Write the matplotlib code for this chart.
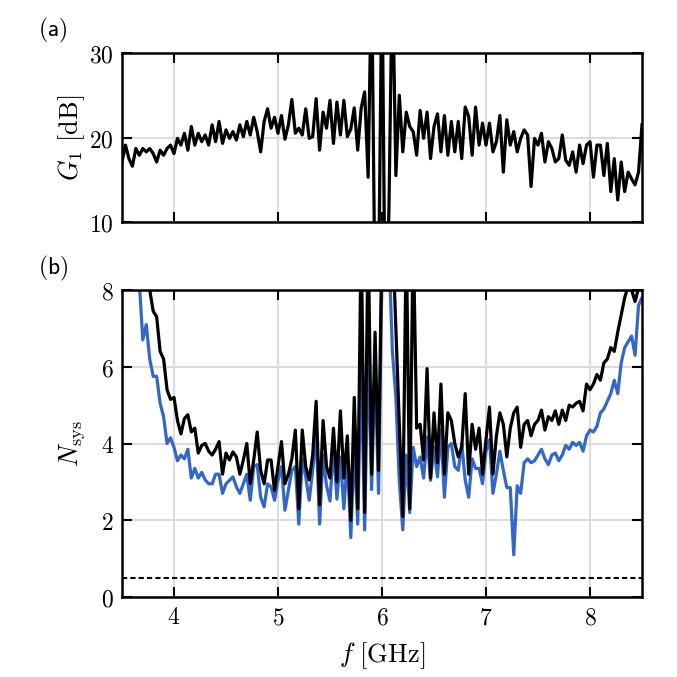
import numpy as np
import matplotlib
matplotlib.use('Agg')
import matplotlib.pyplot as plt
from matplotlib.ticker import FuncFormatter

plt.rcParams['mathtext.fontset'] = 'cm'
plt.rcParams['font.family'] = 'DejaVu Sans'

# frequency grid, 1/30 GHz steps
freq = np.linspace(3.5, 8.5, 151)

# (a) gain G1 in dB
gain = [17.1, 19.1, 17.5, 16.6, 18.7, 17.9, 18.7, 18.3, 18.7, 18.1,
        17.1, 18.5, 17.9, 18.7, 19.1, 18.1, 19.9, 19.1, 20.5, 18.5,
        21.3, 19.1, 20.5, 19.5, 20.3, 19.1, 21.5, 19.5, 21.9, 19.3,
        20.9, 19.9, 20.7, 19.7, 21.5, 20.1, 21.9, 20.3, 22.4, 20.7,
        18.3, 21.9, 23.4, 21.1, 22.4, 20.5, 22.6, 19.8, 21.5, 24.5,
        20.5, 21.1, 20.3, 23.4, 19.9, 20.1, 24.6, 18.5, 23.0, 21.1,
        24.4, 19.3, 24.2, 20.3, 24.4, 20.1, 21.0, 23.5, 18.5, 23.5,
        25.4, 15.3, 40.0, 0.0, 2.0, 40.0, -5.0, 11.5, 40.0, 15.5,
        25.0, 18.3, 23.0, 21.3, 20.7, 17.9, 23.2, 19.9, 23.0, 17.5,
        21.3, 22.8, 18.3, 22.6, 17.9, 21.9, 18.3, 21.9, 17.5, 23.6,
        22.5, 17.9, 23.6, 19.1, 21.7, 19.1, 21.7, 18.3, 19.5, 22.6,
        15.9, 22.1, 19.1, 20.7, 18.3, 19.9, 20.9, 20.3, 14.2, 19.9,
        19.1, 20.5, 17.1, 19.5, 18.7, 17.1, 17.5, 20.3, 17.3, 16.7,
        18.3, 15.9, 19.1, 16.9, 19.1, 19.5, 15.3, 19.1, 19.1, 15.5,
        19.3, 13.6, 17.5, 12.6, 17.1, 13.6, 15.9, 15.1, 14.4, 15.9,
        21.5]

# (b) system noise, black and blue traces
nsys_black = [14.0, 13.0, 12.0, 11.2, 10.5, 9.8, 9.2, 8.5, 8.0, 7.45,
              7.3, 6.4, 6.2, 5.4, 5.15, 5.2, 4.6, 4.25, 4.65, 4.75,
              4.3, 4.4, 3.75, 3.95, 4.0, 3.8, 3.7, 3.85, 4.05, 3.2,
              3.75, 3.57, 3.78, 3.65, 3.2, 3.57, 4.0, 2.95, 3.57, 4.3,
              3.3, 2.95, 3.57, 3.57, 2.78, 3.4, 4.05, 2.95, 3.2, 3.6,
              4.35, 2.3, 4.35, 3.4, 3.05, 3.7, 5.1, 2.4, 4.6, 3.4,
              3.1, 4.4, 3.0, 4.85, 3.1, 4.2, 2.0, 5.2, 2.3, 9.5,
              2.2, 9.5, 3.2, 6.9, 3.3, 9.5, 10.0, 10.0, 9.5, 7.0,
              4.5, 2.1, 9.5, 2.3, 9.5, 4.4, 4.5, 3.57, 5.95, 3.1,
              4.8, 3.5, 5.55, 3.2, 4.8, 4.6, 4.0, 3.65, 3.9, 5.3,
              3.2, 4.5, 3.85, 4.4, 3.2, 4.1, 4.95, 3.2, 4.2, 4.8,
              4.5, 3.65, 4.4, 4.8, 4.95, 3.9, 4.5, 4.6, 4.2, 4.5,
              4.6, 4.87, 4.35, 4.7, 4.6, 4.85, 4.5, 4.87, 4.6, 5.0,
              4.95, 5.05, 5.1, 4.85, 5.55, 5.4, 5.55, 5.8, 5.65, 6.1,
              6.2, 6.5, 6.4, 6.9, 7.35, 7.8, 8.1, 8.0, 7.7, 8.05,
              8.0]
nsys_blue = [11.0, 10.2, 9.6, 9.0, 8.5, 8.2, 6.7, 7.1, 6.2, 5.75,
             5.75, 5.05, 4.7, 4.0, 4.15, 3.9, 3.55, 3.7, 3.6, 3.85,
             3.1, 3.35, 3.1, 3.25, 3.05, 2.95, 2.95, 3.2, 3.2, 2.7,
             2.95, 3.04, 3.13, 2.87, 2.7, 2.95, 3.2, 2.52, 3.4, 3.45,
             2.6, 2.35, 2.95, 2.87, 2.52, 3.04, 3.4, 2.26, 2.78, 3.3,
             3.4, 1.9, 3.6, 3.13, 2.52, 3.3, 4.2, 1.9, 3.7, 2.9,
             2.5, 3.9, 2.55, 3.65, 2.3, 3.6, 1.55, 3.9, 1.9, 6.0,
             1.75, 6.5, 2.8, 6.0, 2.7, 8.5, 10.0, 9.0, 6.4, 5.2,
             3.0, 1.75, 3.7, 2.2, 3.9, 3.4, 3.65, 3.1, 4.17, 3.04,
             3.9, 3.13, 4.35, 2.6, 3.9, 4.0, 3.4, 3.3, 4.0, 3.05,
             2.6, 3.6, 3.35, 3.35, 2.95, 3.8, 4.1, 2.7, 3.2, 3.8,
             3.3, 2.85, 2.85, 1.1, 2.9, 2.7, 3.5, 3.6, 3.5, 3.55,
             3.7, 3.85, 3.6, 3.45, 3.7, 3.75, 3.55, 3.7, 3.95, 3.85,
             4.03, 3.95, 4.03, 3.8, 4.2, 4.35, 4.3, 4.45, 4.8, 4.9,
             5.1, 5.3, 5.65, 5.3, 6.1, 6.5, 6.65, 6.8, 6.3, 7.6,
             7.8]
n_limit = 0.5

xticks = [4, 5, 6, 7, 8]
gain_ticks = [10, 20, 30]
nsys_ticks = [0, 2, 4, 6, 8]

W = 677.0
fig = plt.figure(figsize=(6.77, 6.77), dpi=100)
ax1 = fig.add_axes([122 / W, 1 - 222 / W, 520 / W, 169 / W])
ax2 = fig.add_axes([122 / W, 1 - 597 / W, 520 / W, 307 / W])

mathfmt = FuncFormatter(lambda v, p: '$%g$' % v)


def style(ax):
    ax.tick_params(direction='in', length=7.5, width=1.5, top=True, right=True,
                   labelsize=17, pad=6)
    for s in ax.spines.values():
        s.set_linewidth(1.8)
    ax.grid(True, color='#dcdcdc', lw=1.5)
    ax.set_axisbelow(True)
    ax.xaxis.set_major_formatter(mathfmt)
    ax.yaxis.set_major_formatter(mathfmt)
    ax.set_xticks(xticks)
    ax.set_xlim(3.5, 8.5)


ax1.plot(freq, gain, color='k', lw=2.3)
ax1.set_ylim(10, 30)
style(ax1)
ax1.set_yticks(gain_ticks)
ax1.tick_params(labelbottom=False)
ax1.set_ylabel(r'$G_1\ [\mathrm{dB}]$', fontsize=19)
ax1.yaxis.set_label_coords(-0.068, 0.5)

ax2.plot(freq, nsys_blue, color='#3366cc', lw=2.3)
ax2.plot(freq, nsys_black, color='k', lw=2.3)
ax2.axhline(n_limit, color='k', ls=(0, (2.5, 1.5)), lw=1.5)
ax2.set_ylim(0, 8)
style(ax2)
ax2.set_yticks(nsys_ticks)
ax2.set_ylabel(r'$N_\mathrm{sys}$', fontsize=19)
ax2.yaxis.set_label_coords(-0.068, 0.5)
ax2.set_xlabel(r'$f\ [\mathrm{GHz}]$', fontsize=19)
ax2.xaxis.set_label_coords(0.5, -0.14)

fig.text(38 / W, 1 - 30 / W, r'$\mathsf{(a)}$', fontsize=17, va='center')
fig.text(38 / W, 1 - 268 / W, r'$\mathsf{(b)}$', fontsize=17, va='center')

fig.savefig('out.png', dpi=100)
